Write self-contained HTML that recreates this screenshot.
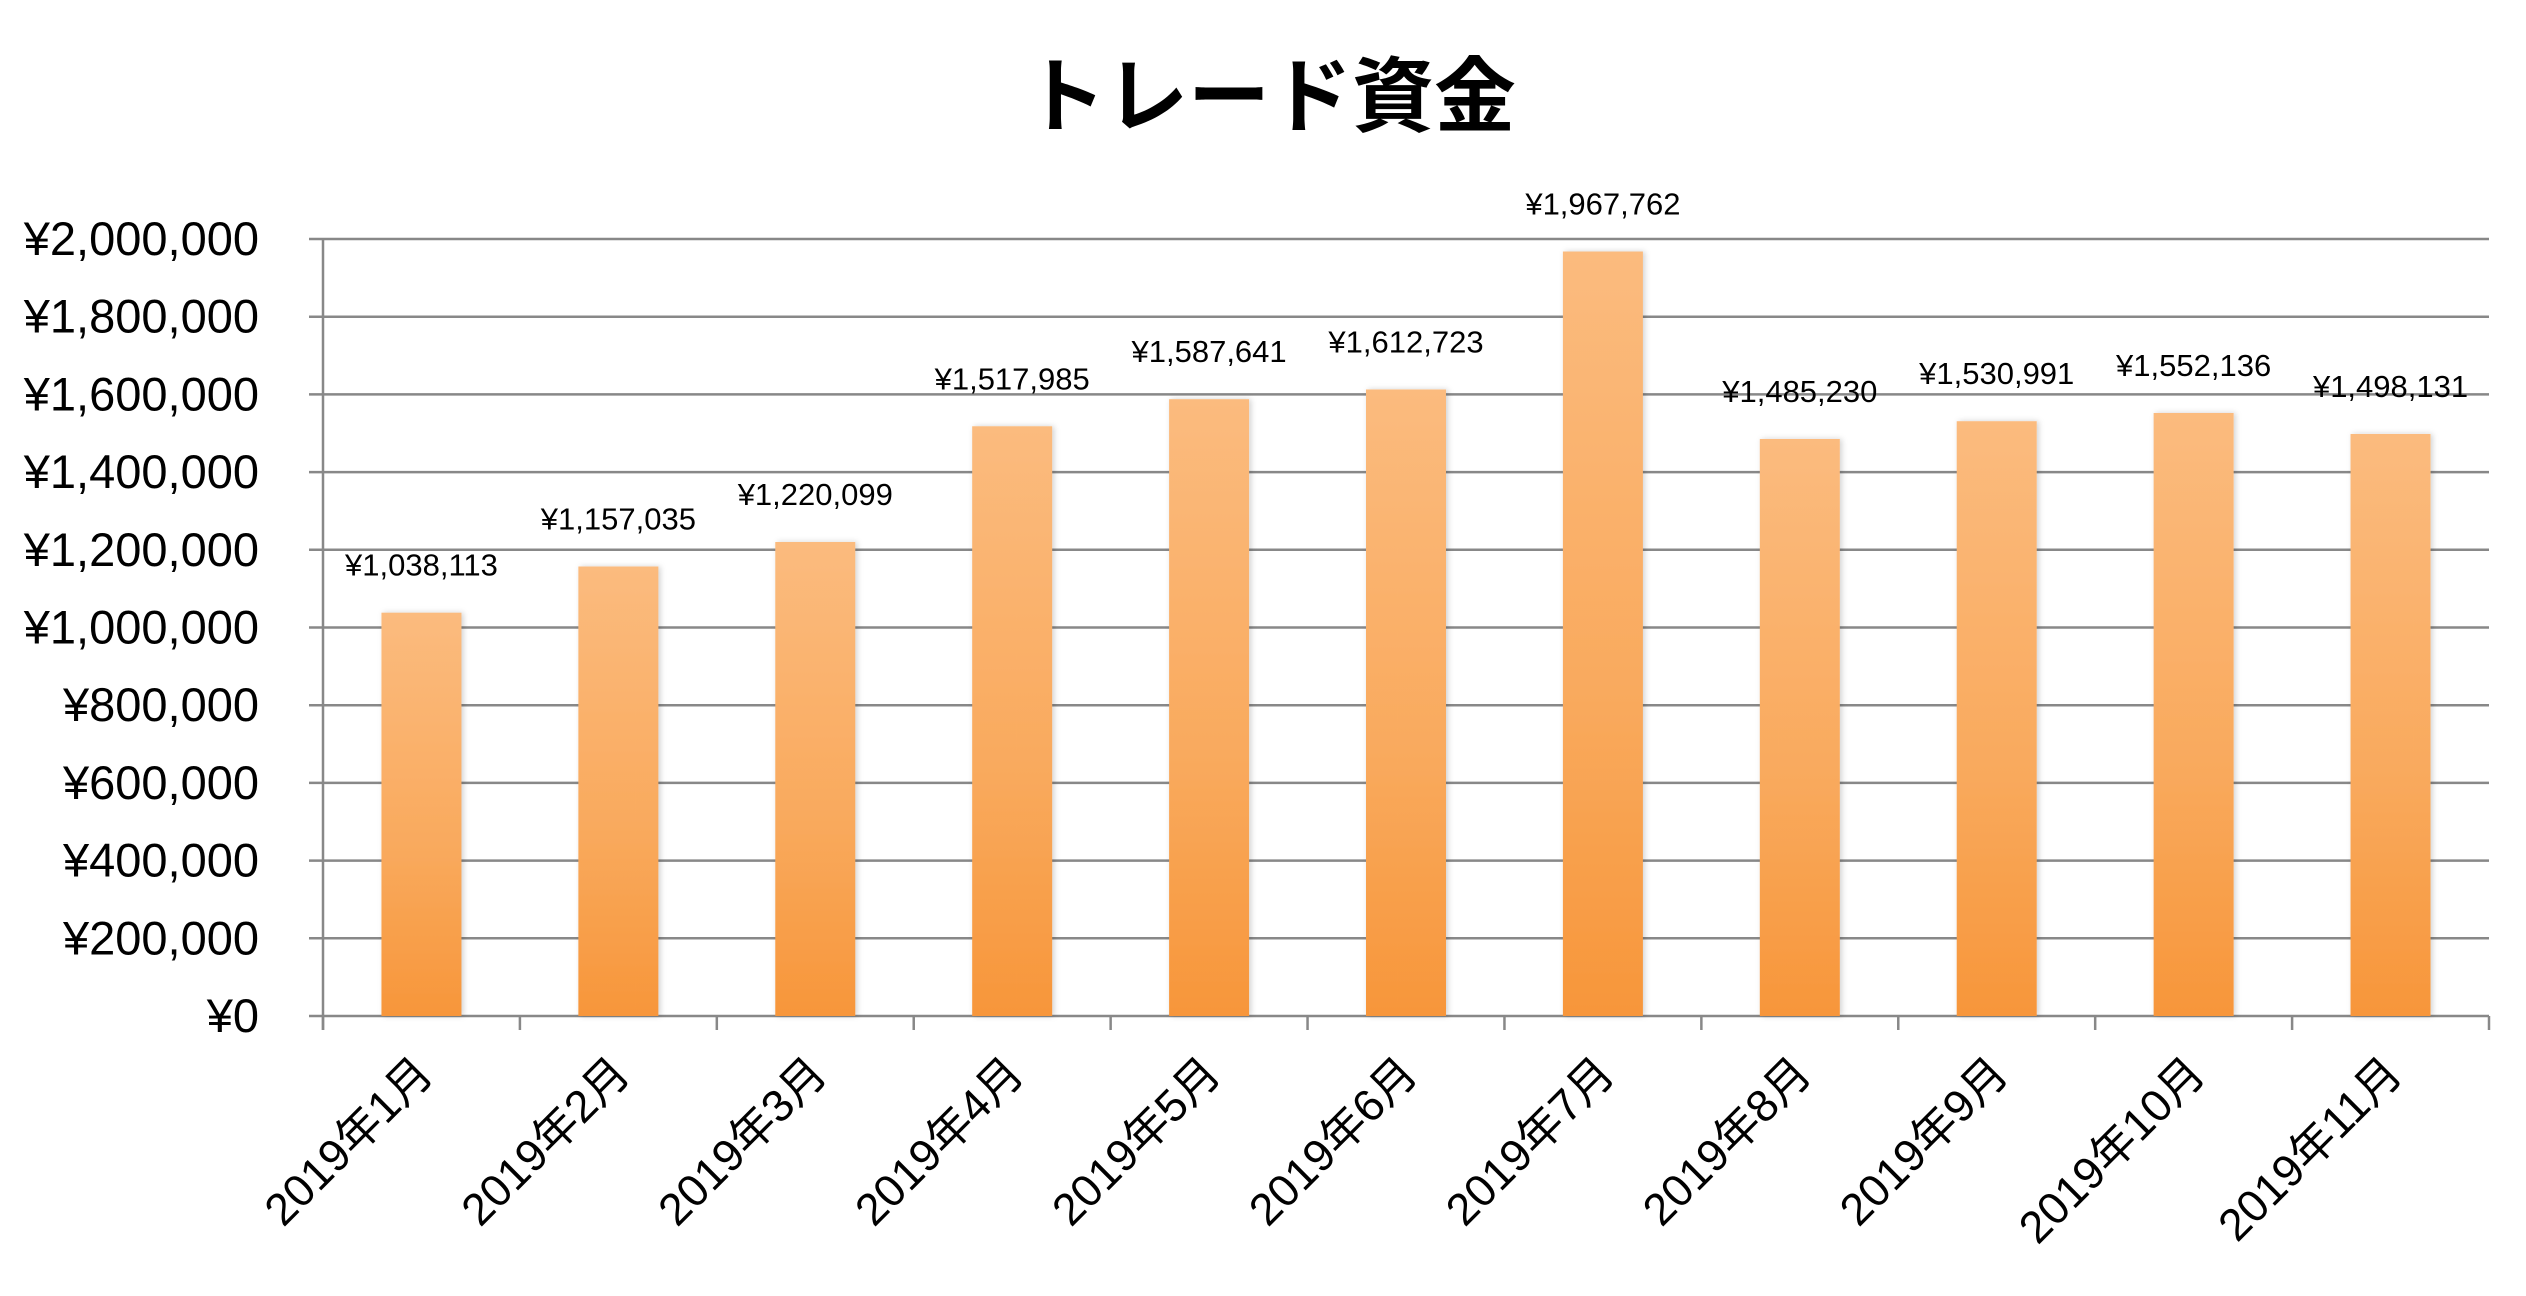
<!DOCTYPE html>
<html><head><meta charset="utf-8"><style>
html,body{margin:0;padding:0;background:#fff;}
svg{display:block;}
text{font-family:"Liberation Sans","Noto Sans CJK JP",sans-serif;fill:#000;}
</style></head><body>
<svg id="chart" width="2526" height="1296" viewBox="0 0 2526 1296">
<defs>
<linearGradient id="barGrad" x1="0" y1="0" x2="0" y2="1">
<stop offset="0" stop-color="#FBBB7E"/>
<stop offset="0.6" stop-color="#F9A95C"/>
<stop offset="1" stop-color="#F7963A"/>
</linearGradient>
<filter id="sh" x="-20%" y="-5%" width="140%" height="110%"><feDropShadow dx="2" dy="0" stdDeviation="3" flood-color="#000" flood-opacity="0.18"/></filter>
</defs>
<text x="1270" y="125" text-anchor="middle" font-size="82" font-weight="bold" style="font-family:'Noto Sans CJK JP',sans-serif">トレード資金</text>
<g id="grid"></g><g id="bars"></g><g id="labels"></g>
</svg>
<script>
const categories = ["2019年1月","2019年2月","2019年3月","2019年4月","2019年5月","2019年6月","2019年7月","2019年8月","2019年9月","2019年10月","2019年11月"];
const values = [1038113,1157035,1220099,1517985,1587641,1612723,1967762,1485230,1530991,1552136,1498131];
const valueLabels = ["¥1,038,113","¥1,157,035","¥1,220,099","¥1,517,985","¥1,587,641","¥1,612,723","¥1,967,762","¥1,485,230","¥1,530,991","¥1,552,136","¥1,498,131"];
const yTicks = [0,200000,400000,600000,800000,1000000,1200000,1400000,1600000,1800000,2000000];
const yTickLabels = ["¥0","¥200,000","¥400,000","¥600,000","¥800,000","¥1,000,000","¥1,200,000","¥1,400,000","¥1,600,000","¥1,800,000","¥2,000,000"];

const NS="http://www.w3.org/2000/svg";
const L=323,R=2489,T=239,B=1016,yMax=2000000;
const y=v=>B-(v/yMax)*(B-T);
const bandW=(R-L)/categories.length;
const xc=i=>L+bandW*(i+0.5);
const barW=80;
function mk(tag,attrs,parent){const e=document.createElementNS(NS,tag);for(const k in attrs)e.setAttribute(k,attrs[k]);parent.appendChild(e);return e;}
const grid=document.getElementById('grid'),bars=document.getElementById('bars'),labels=document.getElementById('labels');
yTicks.forEach((t,i)=>{
  const ln=mk('line',{x1:309,x2:R,y1:y(t),y2:y(t),stroke:'#888','stroke-width':2.5},grid);
  
  
  const tx=mk('text',{x:259,y:y(t)+16,'text-anchor':'end','font-size':47},labels);
  tx.textContent=yTickLabels[i];
  
  
});
const ax=mk('line',{x1:L,x2:L,y1:T,y2:B+14,stroke:'#888','stroke-width':2.5},grid);


for(let i=0;i<=categories.length;i++){
  const tk=mk('line',{x1:L+bandW*i,x2:L+bandW*i,y1:B,y2:B+14,stroke:'#888','stroke-width':2.5},grid);
  
  
}
categories.forEach((c,i)=>{
  const r=mk('rect',{x:xc(i)-barW/2,y:y(values[i]),width:barW,height:B-y(values[i]),fill:'url(#barGrad)',filter:'url(#sh)'},bars);
  
  
  const vl=mk('text',{x:xc(i),y:y(values[i])-37,'text-anchor':'middle','font-size':31},labels);
  vl.textContent=valueLabels[i];
  
  
  const ax0=xc(i)+14,ay0=1076;
  const cl=mk('text',{x:ax0,y:ay0,'text-anchor':'end','font-size':45,transform:`rotate(-45 ${ax0} ${ay0})`},labels);
  cl.textContent=c;
  
  
});
</script>
</body></html>
